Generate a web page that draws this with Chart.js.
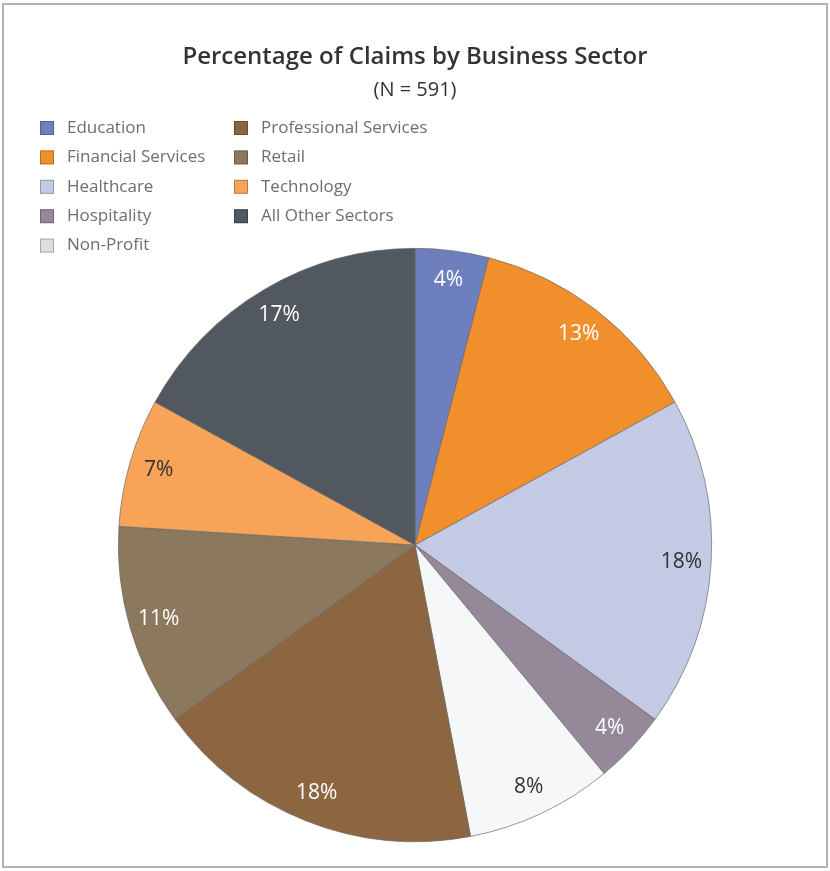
<!DOCTYPE html>
<html>
<head>
<meta charset="utf-8">
<script src="https://cdn.jsdelivr.net/npm/chart.js@4"></script>
<style>
  html, body { margin: 0; padding: 0; background: #fff; }
  #wrap { position: relative; width: 830px; height: 871px; }
</style>
</head>
<body>
<div id="wrap"><canvas id="sectorChart" width="830" height="871"></canvas></div>
<script>
// Claims by business sector, percent of 591
const sectors = ['Education', 'Financial Services', 'Healthcare', 'Hospitality', 'Non-Profit',
  'Professional Services', 'Retail', 'Technology', 'All Other Sectors'];
const shares = [4, 13, 18, 4, 8, 18, 11, 7, 17];

const sliceColors = ['#6E7FBE', '#F28F2D', '#C4C9E4', '#958898', '#F6F7F9',
  '#8B6641', '#8C785C', '#F7A459', '#51585F'];
const swatchColors = ['#6E7FBE', '#F28F2D', '#C4C9E4', '#958898', '#DCDFDD',
  '#8B6641', '#8C785C', '#F7A459', '#51585F'];
const labelColors = ['#fff', '#fff', '#333', '#fff', '#333', '#fff', '#fff', '#333', '#fff'];

const FONT = '"Open Sans", "Noto Sans", sans-serif';

// frame, two-column legend and the percent labels
const decorations = {
  id: 'decorations',
  beforeDraw(chart) {
    const ctx = chart.ctx;
    ctx.save();
    ctx.strokeStyle = '#b3b3b3';
    ctx.lineWidth = 2;
    ctx.strokeRect(3, 4, 824, 863);
    ctx.restore();
  },
  afterDraw(chart) {
    const ctx = chart.ctx;
    ctx.save();

    // legend
    ctx.font = '17px ' + FONT;
    ctx.textBaseline = 'middle';
    ctx.textAlign = 'left';
    chart.data.labels.forEach((name, i) => {
      const col = i < 5 ? 0 : 1;
      const row = i < 5 ? i : i - 5;
      const x = col === 0 ? 40 : 234;
      const y = 128 + row * 29.4;
      ctx.fillStyle = swatchColors[i];
      ctx.fillRect(x, y - 7, 14, 14);
      ctx.strokeStyle = 'rgba(0,0,0,0.25)';
      ctx.lineWidth = 1;
      ctx.strokeRect(x + 0.5, y - 6.5, 13, 13);
      ctx.fillStyle = '#6e6e6e';
      ctx.fillText(name, x + 27, y);
    });

    // slice labels
    const meta = chart.getDatasetMeta(0);
    ctx.font = '21px ' + FONT;
    ctx.textAlign = 'center';
    meta.data.forEach((arc, i) => {
      const p = arc.getProps(['x', 'y', 'startAngle', 'endAngle', 'outerRadius'], true);
      const mid = (p.startAngle + p.endAngle) / 2;
      const r = p.outerRadius * 0.9;
      ctx.fillStyle = labelColors[i];
      ctx.fillText(shares[i] + '%', p.x + Math.cos(mid) * r, p.y + Math.sin(mid) * r);
    });
    ctx.restore();
  }
};

new Chart(document.getElementById('sectorChart'), {
  type: 'pie',
  data: {
    labels: sectors,
    datasets: [{
      data: shares,
      backgroundColor: sliceColors,
      borderColor: '#6a6a6a',
      borderWidth: 0.7
    }]
  },
  options: {
    responsive: false,
    animation: false,
    layout: { padding: { left: 118, right: 118, bottom: 29 } },
    plugins: {
      legend: { display: false },
      tooltip: { enabled: false },
      title: {
        display: true,
        text: 'Percentage of Claims by Business Sector',
        color: '#333',
        font: { family: FONT, size: 24, weight: '600' },
        padding: { top: 42.6, bottom: 6.6 }
      },
      subtitle: {
        display: true,
        text: '(N = 591)',
        color: '#333',
        font: { family: FONT, size: 20 },
        padding: { top: 0, bottom: 146 }
      }
    }
  },
  plugins: [decorations]
});
</script>
</body>
</html>
